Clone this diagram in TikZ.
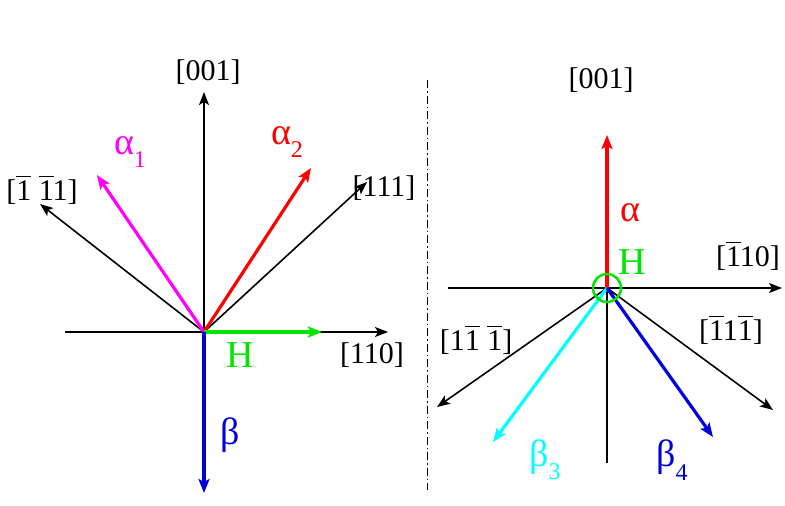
\documentclass[tikz,border=0pt]{standalone}
\usepackage{fontspec}
\setmainfont{Liberation Serif}
\usetikzlibrary{arrows.meta}
\definecolor{mag}{RGB}{255,0,255}
\definecolor{cyn}{RGB}{0,255,255}
\definecolor{grn}{RGB}{0,230,0}
\definecolor{blu}{RGB}{0,0,220}
\newcommand{\sbs}[1]{\raisebox{-0.35em}{\fontsize{24}{26}\selectfont #1}}
\newcommand{\ob}{\rlap{\raisebox{0.78em}{\rule{0.5em}{0.05em}}}}
\begin{document}
\begin{tikzpicture}[x=1pt,y=-1pt,
  ax/.style={black,line width=1.6pt,-{Stealth[length=13pt,width=10pt,inset=3pt]}},
  vec/.style={line width=3.2pt,-{Stealth[length=14pt,width=11pt,inset=3pt]}},
  lab/.style={font=\fontsize{30}{32}\selectfont},
  glab/.style={font=\fontsize{38}{40}\selectfont}]
\useasboundingbox (0,0) rectangle (785,506);
\coordinate (O) at (204,332);
\coordinate (xl) at (65,332);
\coordinate (xr) at (388,332);
\draw[ax] (xl) -- (xr);
\draw[ax] (O) -- (204,92) coordinate (t001);
\draw[ax] (O) -- (367,182) coordinate (t111);
\draw[ax] (O) -- (40,204) coordinate (tm);
\draw[vec,mag] (O) -- (97,175) coordinate (a1);
\draw[vec,red] (O) -- (311,168) coordinate (a2);
\draw[vec,grn] (O) -- (322,332) coordinate (h1);
\draw[vec,blu] (O) -- (204,493) coordinate (b1);
\node[lab] (l001) at (208,72) {[001]};
\node[lab] (l111) at (384,188) {[111]};
\node[lab] (lmm) at (42,190) {[\ob1 \ob11]};
\node[lab] (l110) at (372,355) {[110]};
\node[glab,mag] (la1) at (130,152) {α\sbs{1}};
\node[glab,red] (la2) at (287,142) {α\sbs{2}};
\node[glab,grn] (lh1) at (240,355) {H};
\node[glab,blu] (lb) at (230,435) {β};
\draw[line width=1pt,dash pattern=on 8pt off 3pt on 1.5pt off 3pt] (427,80) coordinate (d1) -- (427,490) coordinate (d2);
% right
\coordinate (P) at (607,288);
\draw[ax] (448,288) coordinate (yl) -- (782,288) coordinate (yr);
\draw[black,line width=1.6pt] (P) -- (607,463) coordinate (pd);
\draw[ax] (P) -- (437,407) coordinate (t1mm);
\draw[ax] (P) -- (773,410) coordinate (tm1m);
\draw[vec,red] (P) -- (607,135) coordinate (al);
\draw[vec,cyn] (P) -- (493,442) coordinate (b3);
\draw[vec,blu] (P) -- (713,437) coordinate (b4);
\draw[grn,line width=2.5pt] (P) circle (14);
\node[lab] (r001) at (601,80) {[001]};
\node[lab] (rm110) at (748,256) {[\ob110]};
\node[lab] (r1mm) at (476,340) {[1\ob1 \ob1]};
\node[lab] (rm1m) at (731,330) {[\ob11\ob1]};
\node[glab,red] (lal) at (630,213) {α};
\node[glab,grn] (lh2) at (632,262) {H};
\node[glab,cyn] (lb3) at (545,460) {β\sbs{3}};
\node[glab,blu] (lb4) at (672,460) {β\sbs{4}};
\end{tikzpicture}
\end{document}
